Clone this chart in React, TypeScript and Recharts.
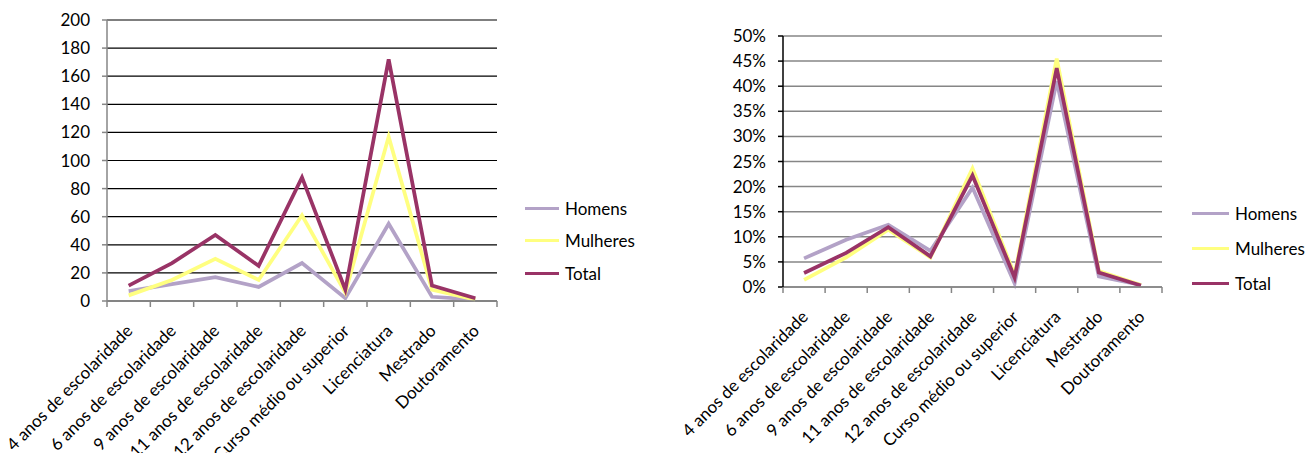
import React from 'react';
import { LineChart, Line, XAxis, YAxis, CartesianGrid } from 'recharts';

const categories = [
  '4 anos de escolaridade',
  '6 anos de escolaridade',
  '9 anos de escolaridade',
  '11 anos de escolaridade',
  '12 anos de escolaridade',
  'Curso médio ou superior',
  'Licenciatura',
  'Mestrado',
  'Doutoramento',
];

// absolute counts
const homensCount = [7, 12, 17, 10, 27, 2, 55, 3, 1];
const mulheresCount = [4, 15, 30, 15, 61, 6, 117, 8, 1];
const totalCount = [11, 27, 47, 25, 88, 8, 172, 11, 2];

// share of each group (%)
const homensPct = [5.7, 9.4, 12.4, 7.2, 19.8, 0.7, 41.0, 2.1, 0.4];
const mulheresPct = [1.4, 5.9, 11.4, 5.9, 23.6, 2.4, 45.5, 3.2, 0.4];
const totalPct = [2.8, 6.8, 11.9, 6.1, 22.2, 1.9, 43.6, 2.9, 0.3];

const countTicks = [0, 20, 40, 60, 80, 100, 120, 140, 160, 180, 200];
const pctTicks = [0, 5, 10, 15, 20, 25, 30, 35, 40, 45, 50];

const seriesNames = ['Homens', 'Mulheres', 'Total'];
const seriesColors = ['#b3a2c7', '#ffff80', '#993366'];

const FONT = 'Lato, "Open Sans", sans-serif';
const AXIS_GREY = '#868686';

const countData = categories.map((name, i) => ({
  name,
  Homens: homensCount[i],
  Mulheres: mulheresCount[i],
  Total: totalCount[i],
}));

const pctData = categories.map((name, i) => ({
  name,
  Homens: homensPct[i],
  Mulheres: mulheresPct[i],
  Total: totalPct[i],
}));

function makeTick(band: number, stroke: string) {
  return (props: any) => {
    const { x, y, payload, index } = props;
    const ax = x + 5;
    const ay = y + 31;
    return (
      <g>
        <line x1={x - band / 2} x2={x - band / 2} y1={y} y2={y + 6} stroke={stroke} strokeWidth={1.5} />
        {index === categories.length - 1 && (
          <line x1={x + band / 2} x2={x + band / 2} y1={y} y2={y + 6} stroke={stroke} strokeWidth={1.5} />
        )}
        <text
          x={ax}
          y={ay}
          transform={`rotate(-45 ${ax} ${ay})`}
          textAnchor="end"
          fill="#000"
          fontSize={17}
          fontFamily={FONT}
        >
          {payload.value}
        </text>
      </g>
    );
  };
}

function LegendBox({ left, top, gap, lineW }: { left: number; top: number; gap: number; lineW: number }) {
  return (
    <div style={{ position: 'absolute', left, top, fontFamily: FONT, fontSize: 17, color: '#000' }}>
      {seriesNames.map((s, i) => (
        <div
          key={s}
          style={{ position: 'absolute', top: i * gap, left: 0, display: 'flex', alignItems: 'center', height: 20, whiteSpace: 'nowrap' }}
        >
          <div style={{ width: lineW, height: 3, backgroundColor: seriesColors[i], marginRight: 6 }} />
          <span>{s}</span>
        </div>
      ))}
    </div>
  );
}

export default function App() {
  return (
    <div style={{ position: 'absolute', left: 0, top: 0, width: 1312, height: 453, background: '#fff', overflow: 'hidden' }}>
      {/* counts */}
      <div style={{ position: 'absolute', left: 0, top: 0 }}>
        <LineChart width={520} height={453} data={countData} margin={{ top: 20, right: 23, bottom: 0, left: 57 }}>
          <CartesianGrid vertical={false} stroke="#000" strokeWidth={1.2} />
          <XAxis
            dataKey="name"
            scale="band"
            interval={0}
            height={152}
            tickLine={false}
            tickSize={0}
            tickMargin={0}
            axisLine={{ stroke: AXIS_GREY, strokeWidth: 1.5 }}
            tick={makeTick(390 / 9, AXIS_GREY)}
          />
          <YAxis
            domain={[0, 200]}
            ticks={countTicks}
            width={50}
            tickSize={5}
            tickMargin={12}
            axisLine={{ stroke: AXIS_GREY, strokeWidth: 1.5 }}
            tickLine={{ stroke: AXIS_GREY, strokeWidth: 1.5 }}
            tick={{ fill: '#000', fontSize: 17, fontFamily: FONT }}
          />
          {seriesNames.map((s, i) => (
            <Line
              key={s}
              dataKey={s}
              stroke={seriesColors[i]}
              strokeWidth={3.75}
              dot={false}
              activeDot={false}
              isAnimationActive={false}
            />
          ))}
        </LineChart>
      </div>
      <LegendBox left={525} top={198} gap={32.5} lineW={34} />

      {/* percentages */}
      <div style={{ position: 'absolute', left: 660, top: 0 }}>
        <LineChart width={520} height={453} data={pctData} margin={{ top: 36, right: 18, bottom: 0, left: 73 }}>
          <CartesianGrid vertical={false} stroke={AXIS_GREY} strokeWidth={1.5} />
          <XAxis
            dataKey="name"
            scale="band"
            interval={0}
            height={166}
            tickLine={false}
            tickSize={0}
            tickMargin={0}
            axisLine={{ stroke: AXIS_GREY, strokeWidth: 1.5 }}
            tick={makeTick(379 / 9, AXIS_GREY)}
          />
          <YAxis
            domain={[0, 50]}
            ticks={pctTicks}
            width={50}
            tickSize={5}
            tickMargin={12}
            tickFormatter={(v: number) => `${v}%`}
            axisLine={{ stroke: '#000', strokeWidth: 1.5 }}
            tickLine={{ stroke: '#000', strokeWidth: 1.5 }}
            tick={{ fill: '#000', fontSize: 17, fontFamily: FONT }}
          />
          {seriesNames.map((s, i) => (
            <Line
              key={s}
              dataKey={s}
              stroke={seriesColors[i]}
              strokeWidth={3.75}
              dot={false}
              activeDot={false}
              isAnimationActive={false}
            />
          ))}
        </LineChart>
      </div>
      <LegendBox left={1192} top={203} gap={35} lineW={37} />
    </div>
  );
}
